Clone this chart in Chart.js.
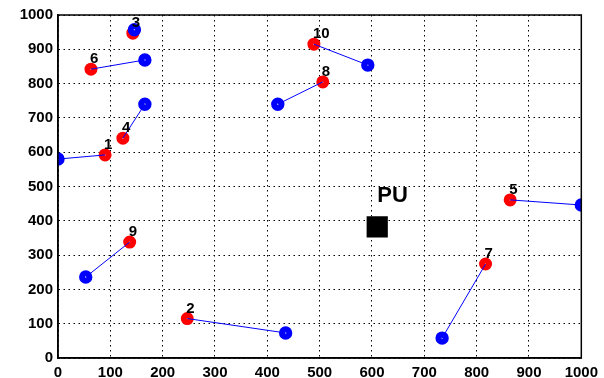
<!DOCTYPE html>
<html>
<head>
<meta charset="utf-8">
<script src="https://cdn.jsdelivr.net/npm/chart.js@4/dist/chart.umd.min.js"></script>
<style>
  html, body { margin: 0; padding: 0; background: #fff; }
  canvas { display: block; }
</style>
</head>
<body>
<canvas id="chart" width="604" height="378"></canvas>
<script>
// Données du graphique
const userLabels = ['1', '2', '3', '4', '5', '6', '7', '8', '9', '10'];
const redX = [90, 247, 143, 124, 864, 63, 817, 506, 137, 489];
const redY = [592, 115, 947, 641, 461, 842, 274, 805, 338, 915];
const blueX = [0, 435, 146, 166, 1000, 166, 734, 420, 53, 592];
const blueY = [580, 73, 957, 740, 446, 869, 58, 740, 236, 854];
const puPoint = [610, 382];
const puLabel = 'PU';
const axisTicks = [0, 100, 200, 300, 400, 500, 600, 700, 800, 900, 1000];

const fontFamily = '"Liberation Sans", Arial, sans-serif';

// Segments rouge -> bleu
const lineDatasets = userLabels.map((lbl, i) => ({
    type: 'scatter',
    data: [{x: redX[i], y: redY[i]}, {x: blueX[i], y: blueY[i]}],
    showLine: true,
    borderColor: '#0000ff',
    borderWidth: 1,
    pointRadius: 0,
    order: 0
}));

// Plugin : cadre + étiquettes
const labelsPlugin = {
    id: 'labels',
    afterDatasetsDraw(chart) {
        const ctx = chart.ctx;
        const xs = chart.scales.x, ys = chart.scales.y;
        const a = chart.chartArea;
        ctx.save();
        ctx.strokeStyle = '#000';
        ctx.lineWidth = 1.5;
        ctx.strokeRect(a.left, a.top, a.right - a.left, a.bottom - a.top);

        ctx.fillStyle = '#000';
        ctx.textAlign = 'left';
        ctx.textBaseline = 'middle';
        ctx.font = 'bold 15px ' + fontFamily;
        userLabels.forEach((lbl, i) => {
            const px = xs.getPixelForValue(redX[i]);
            const py = ys.getPixelForValue(redY[i]);
            ctx.fillText(lbl, px - 1, py - 10);
        });
        ctx.font = 'bold 22px ' + fontFamily;
        ctx.fillText(puLabel, xs.getPixelForValue(puPoint[0]), ys.getPixelForValue(puPoint[1]) - 31);
        ctx.restore();
    }
};

const config = {
    type: 'scatter',
    data: {
        datasets: [
            ...lineDatasets,
            {
                label: 'bleu',
                data: blueX.map((x, i) => ({x: x, y: blueY[i]})),
                pointStyle: 'circle',
                pointRadius: 3.7,
                pointBorderWidth: 6,
                pointBackgroundColor: '#ffffff',
                pointBorderColor: '#0000ff',
                order: 1
            },
            {
                label: 'rouge',
                data: redX.map((x, i) => ({x: x, y: redY[i]})),
                pointStyle: 'circle',
                pointRadius: 3.5,
                pointBorderWidth: 6,
                pointBackgroundColor: '#ffffff',
                pointBorderColor: '#ff0000',
                order: 2
            },
            {
                label: 'PU',
                data: [{x: puPoint[0], y: puPoint[1]}],
                pointStyle: 'rect',
                pointRadius: 15,
                pointBorderWidth: 0,
                pointBackgroundColor: '#000000',
                pointBorderColor: '#000000',
                order: 3
            }
        ]
    },
    options: {
        responsive: false,
        animation: false,
        devicePixelRatio: 1,
        layout: { padding: { left: 0, right: 22, top: 15, bottom: 0 } },
        plugins: {
            legend: { display: false },
            tooltip: { enabled: false }
        },
        scales: {
            x: {
                type: 'linear',
                min: 0,
                max: 1000,
                afterFit: s => { s.height = 20; },
                afterBuildTicks: s => { s.ticks = axisTicks.map(v => ({value: v})); },
                ticks: {
                    color: '#000',
                    padding: 6,
                    font: { family: fontFamily, size: 15, weight: 'bold' },
                    maxRotation: 0,
                    callback: v => String(v)
                },
                grid: { color: '#000', lineWidth: 1, drawTicks: false },
                border: { display: true, color: '#000', width: 1.5, dash: [1.5, 3.5] }
            },
            y: {
                type: 'linear',
                min: 0,
                max: 1000,
                afterFit: s => { s.width = 58; },
                afterBuildTicks: s => { s.ticks = axisTicks.map(v => ({value: v})); },
                ticks: {
                    color: '#000',
                    padding: 5,
                    font: { family: fontFamily, size: 15, weight: 'bold' },
                    callback: v => String(v)
                },
                grid: { color: '#000', lineWidth: 1, drawTicks: false },
                border: { display: true, color: '#000', width: 1.5, dash: [1.5, 3.5] }
            }
        }
    },
    plugins: [labelsPlugin]
};

window.chart = new Chart(document.getElementById('chart').getContext('2d'), config);
</script>
</body>
</html>
